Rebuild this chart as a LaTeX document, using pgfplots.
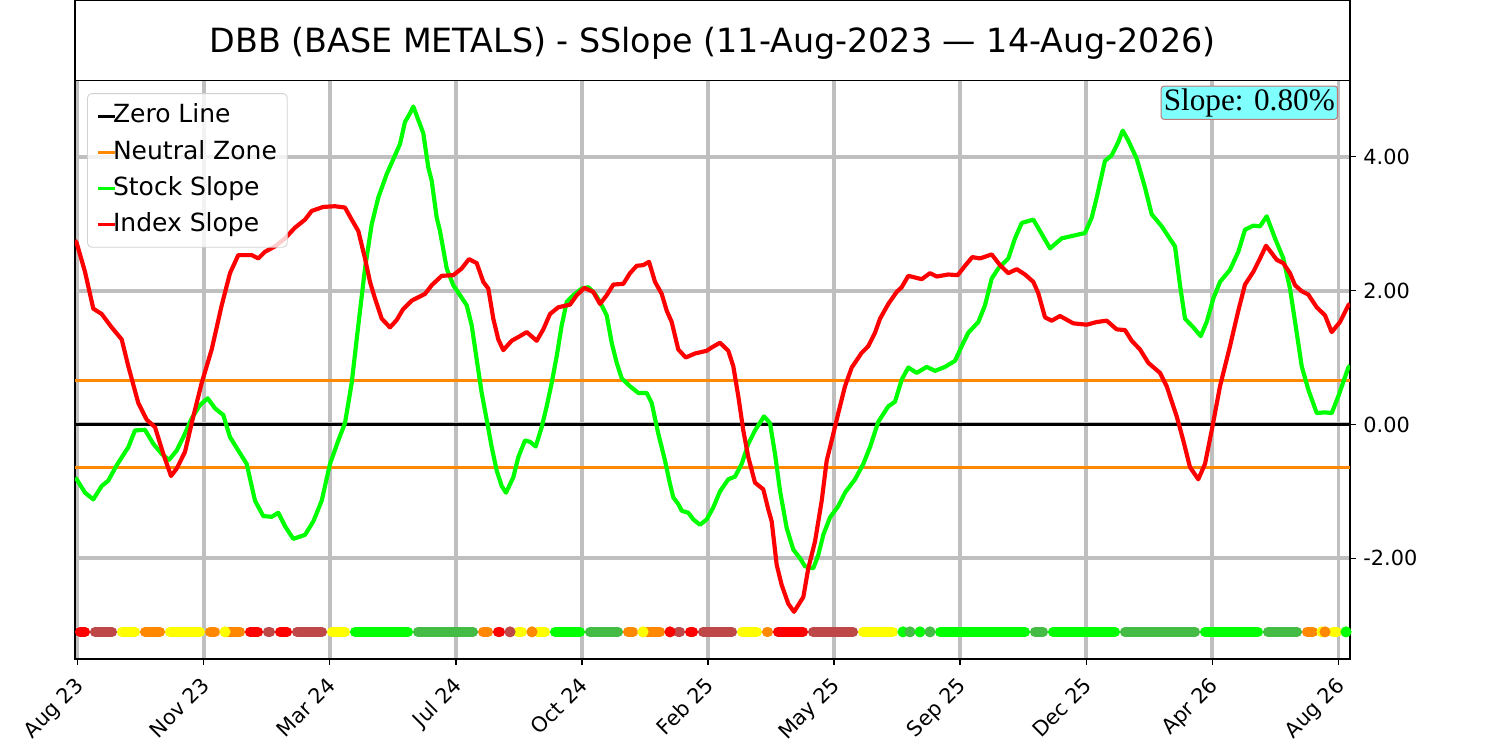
\documentclass[border=0pt]{standalone}
\usepackage{pgfplots}
\usepackage{pgfplotstable}
\pgfplotsset{compat=1.18}
\usepackage{fontspec}
\setmainfont{DejaVu Sans}
\newfontfamily\timesfont{Liberation Serif}
\definecolor{cbrown}{RGB}{190,72,72}
\definecolor{cgreen}{RGB}{68,187,68}
\definecolor{clime}{RGB}{0,255,0}
\definecolor{corange}{RGB}{255,136,0}
\definecolor{cyellow}{RGB}{255,255,0}
\definecolor{cred}{RGB}{255,0,0}
\definecolor{gridgray}{RGB}{191,191,191}
\definecolor{boxfill}{RGB}{128,255,255}
\definecolor{boxedge}{RGB}{190,120,120}

\pgfplotstableread{
x y
75 2.75
76.7 2.71
85 2.28
93.3 1.73
101.7 1.65
111.7 1.45
121.7 1.27
128.3 0.87
138.3 0.32
146.7 0.07
155 -0.04
163.3 -0.44
171 -0.77
176.7 -0.66
185 -0.41
193.3 0.12
201.7 0.62
211.7 1.12
221.7 1.78
230 2.26
238.3 2.53
251.7 2.53
258.3 2.48
265 2.58
275 2.66
285 2.78
295 2.94
305 3.06
311.7 3.19
323.3 3.25
335 3.26
345 3.24
351.7 3.06
358.3 2.89
365 2.48
370 2.13
375 1.88
381.7 1.58
390 1.45
396.7 1.56
403 1.72
411.7 1.85
425 1.95
431.7 2.08
441.7 2.22
453.3 2.23
461.7 2.33
469 2.47
476.7 2.41
483.3 2.13
488.3 2.03
493.3 1.58
498.3 1.27
503.3 1.11
511.7 1.25
520 1.32
526.7 1.38
536.7 1.25
543.3 1.42
550 1.65
558.3 1.75
570 1.79
576.7 1.93
584.3 2.04
593.3 1.98
600 1.80
606.7 1.93
613.3 2.09
623.3 2.10
630 2.26
636.7 2.37
643.3 2.38
649 2.43
655 2.13
661.7 1.95
666.7 1.70
671.7 1.53
678.3 1.12
685.7 1.00
695 1.06
706.7 1.10
711.7 1.15
720 1.22
728.3 1.10
733.3 0.87
738.3 0.42
743.3 -0.09
748.3 -0.49
755 -0.87
763.3 -0.97
768.3 -1.27
771.7 -1.45
776.7 -2.10
781.7 -2.40
788.3 -2.68
794 -2.80
803.3 -2.58
808.3 -2.15
815 -1.75
821.7 -1.14
826.7 -0.54
831.7 -0.24
838.3 0.17
845 0.57
851.7 0.85
861.7 1.07
868.3 1.17
875 1.37
880 1.58
888.3 1.80
896.7 1.98
901.7 2.05
908.3 2.22
921.7 2.17
930 2.26
936.7 2.21
948.3 2.24
957.7 2.23
965 2.37
972.3 2.50
980 2.48
991.7 2.54
1000 2.38
1008.3 2.26
1016.7 2.32
1025 2.24
1033.3 2.13
1038.3 1.96
1045 1.60
1051.7 1.55
1060 1.62
1073.3 1.51
1086.7 1.49
1096.7 1.53
1106.7 1.55
1116.7 1.42
1125 1.41
1131.7 1.25
1140 1.12
1148.3 0.92
1160 0.77
1166.7 0.57
1176.7 0.12
1183.3 -0.24
1190 -0.64
1198.3 -0.82
1205 -0.59
1211.7 -0.09
1220 0.57
1230 1.17
1238.3 1.70
1245 2.09
1253.3 2.28
1260 2.48
1266 2.67
1271.7 2.56
1276.7 2.46
1283.3 2.41
1290 2.26
1295 2.08
1301.7 1.99
1308.3 1.94
1316.7 1.75
1325 1.63
1331.7 1.38
1340 1.53
1348.3 1.78
1350 1.80
}\indextable

\pgfplotstableread{
x y
75 -0.80
76.7 -0.82
85 -1.02
93.3 -1.12
101.7 -0.92
108.3 -0.84
116.7 -0.61
128.3 -0.34
135 -0.09
145 -0.08
153.3 -0.29
161.7 -0.44
169 -0.53
176.7 -0.39
183.3 -0.19
191.7 0.09
200 0.29
207.7 0.39
215 0.24
223.3 0.14
230 -0.19
238.3 -0.39
246.7 -0.59
255 -1.14
263.3 -1.37
271.7 -1.38
278.3 -1.32
285 -1.52
293.3 -1.71
305 -1.65
313.3 -1.45
321.7 -1.14
330 -0.59
338.3 -0.24
345 0.02
351.7 0.62
358.3 1.48
365 2.33
371.7 2.99
378.3 3.39
386.7 3.74
395 4.02
400 4.19
405 4.52
410 4.65
413.3 4.75
418.3 4.55
423.3 4.35
428.3 3.84
431.7 3.64
436.7 3.09
440 2.89
446.7 2.33
453.3 2.08
460 1.93
466.7 1.78
471.7 1.48
476.7 0.97
481.7 0.47
486.7 0.07
491.7 -0.34
496.7 -0.69
501.7 -0.92
506 -1.02
513.3 -0.79
518.3 -0.49
525 -0.24
530 -0.26
535.7 -0.33
541.7 -0.04
546.7 0.27
551.7 0.62
556.7 1.02
561.7 1.48
566.7 1.83
573.3 1.93
581.7 2.03
588.3 2.05
595 1.95
600 1.83
606.7 1.63
611.7 1.22
616.7 0.92
621.7 0.69
630 0.57
638.3 0.47
646.7 0.47
651.7 0.32
658.3 -0.14
665 -0.54
670 -0.89
673.3 -1.09
678.3 -1.19
681.7 -1.29
688.3 -1.32
693.3 -1.42
700 -1.50
706.7 -1.42
713.3 -1.24
720 -1.00
728.3 -0.82
735 -0.78
741.7 -0.59
748.3 -0.29
755 -0.09
764 0.12
770 0.02
775 -0.44
780 -0.99
786.7 -1.55
793.3 -1.87
800 -2.00
805 -2.12
813.3 -2.15
818.3 -1.95
823.3 -1.65
830 -1.39
838.3 -1.22
845 -1.02
855 -0.82
863.3 -0.59
870 -0.34
878.3 0.04
888.3 0.27
895 0.34
901.7 0.67
908.3 0.85
916.7 0.77
926.7 0.86
935 0.80
945 0.86
955 0.95
961.7 1.17
968.3 1.37
978.3 1.53
985 1.78
991.7 2.18
998.3 2.33
1008.3 2.48
1015 2.78
1021.7 3.01
1033.3 3.06
1040 2.89
1050 2.63
1061.7 2.78
1073.3 2.82
1085 2.86
1091.7 3.09
1096.7 3.39
1105 3.94
1111.7 4.02
1118.3 4.22
1122.7 4.39
1128.3 4.24
1136.7 3.97
1145 3.54
1151.7 3.14
1161.7 2.96
1168.3 2.81
1175 2.66
1180 2.08
1185 1.58
1193.3 1.45
1200.7 1.32
1206.7 1.53
1213.3 1.88
1220 2.13
1230 2.31
1238.3 2.58
1245 2.91
1253.3 2.97
1260 2.96
1266.7 3.11
1275 2.78
1283.3 2.48
1290 2.03
1296.7 1.37
1301.7 0.87
1308.3 0.52
1316.7 0.17
1325 0.18
1331.7 0.17
1338.3 0.42
1348.3 0.85
1350 0.88
}\stocktable

\begin{document}
\begin{tikzpicture}
\useasboundingbox (0,0) rectangle (720pt,355.68pt);
\begin{axis}[
  at={(36pt,39.36pt)}, anchor=south west,
  scale only axis, width=612pt, height=277.68pt,
  xmin=75, xmax=1350, ymin=-3.505, ymax=5.139,
  axis line style={line width=0.7pt, black},
  xtick={77.5,203.6,329.7,455.8,581.9,708,834.1,960.2,1086.3,1212.4,1338.5},
  xticklabels={Aug 23,Nov 23,Mar 24,Jul 24,Oct 24,Feb 25,May 25,Sep 25,Dec 25,Apr 26,Aug 26},
  ytick={-2,0,2,4},
  yticklabel pos=right,
  xtick pos=bottom, ytick pos=right,
  tick align=outside,
  major tick length=2.9pt,
  every tick/.style={black, line width=0.7pt},
  yticklabel style={/pgf/number format/.cd, fixed, fixed zerofill, precision=2, assume math mode=true},
  xticklabel style={/pgf/number format/assume math mode=true, anchor=north east, rotate=45, xshift=-1.5pt, yshift=1.2pt},
  tick label style={font=\fontsize{10}{12}\selectfont},
  grid=major,
  major grid style={line width=1.9pt, color=gridgray},
  legend style={at={(0.0095,0.978)}, anchor=north west, draw=black!18, rounded corners=2pt,
    fill=white, fill opacity=0.8, text opacity=1, inner sep=4.5pt, row sep=4.9pt, column sep=-2.2pt,
    font=\fontsize{12}{14}\selectfont,
    nodes={inner sep=0.5pt, text height=9pt, text depth=2.5pt}},
  legend cell align=left,
  legend image code/.code={\draw[#1, line width=1.44pt] (0pt,0pt) -- (8pt,0pt);},
  dot/.style={line width=4.9pt, line cap=round, no markers, forget plot},
  dotm/.style={only marks, mark=*, mark size=2.45pt, forget plot},
]
\addplot[black, line width=1.5pt] coordinates {(75,0) (1350,0)};
\addlegendentry{Zero Line}
\addplot[corange, line width=1.44pt] coordinates {(75,0.65) (1350,0.65)};
\addlegendentry{Neutral Zone}
\addplot[corange, line width=1.44pt, forget plot] coordinates {(75,-0.65) (1350,-0.65)};
% signal dots
\addplot[dot, cred] coordinates {(80,-3.1) (85,-3.1)};
\addplot[dot, cbrown] coordinates {(95,-3.1) (112,-3.1)};
\addplot[dot, cyellow] coordinates {(122,-3.1) (135,-3.1)};
\addplot[dot, corange] coordinates {(145,-3.1) (160,-3.1)};
\addplot[dot, cyellow] coordinates {(170,-3.1) (200,-3.1)};
\addplot[dot, corange] coordinates {(210,-3.1) (215,-3.1)};
\addplot[dotm, cyellow] coordinates {(225,-3.1)};
\addplot[dot, corange] coordinates {(228,-3.1) (240,-3.1)};
\addplot[dot, cred] coordinates {(250,-3.1) (258,-3.1)};
\addplot[dot, cbrown] coordinates {(268,-3.1) (270,-3.1)};
\addplot[dot, cred] coordinates {(280,-3.1) (287,-3.1)};
\addplot[dot, cbrown] coordinates {(297,-3.1) (322,-3.1)};
\addplot[dot, cyellow] coordinates {(332,-3.1) (345,-3.1)};
\addplot[dot, clime] coordinates {(355,-3.1) (408,-3.1)};
\addplot[dot, cgreen] coordinates {(418,-3.1) (473,-3.1)};
\addplot[dot, corange] coordinates {(483,-3.1) (488,-3.1)};
\addplot[dot, cred] coordinates {(498,-3.1) (500,-3.1)};
\addplot[dotm, cbrown] coordinates {(510,-3.1)};
\addplot[dot, cyellow] coordinates {(518,-3.1) (522,-3.1)};
\addplot[dotm, corange] coordinates {(532,-3.1)};
\addplot[dot, cyellow] coordinates {(538,-3.1) (545,-3.1)};
\addplot[dot, clime] coordinates {(555,-3.1) (580,-3.1)};
\addplot[dot, cgreen] coordinates {(590,-3.1) (618,-3.1)};
\addplot[dot, corange] coordinates {(628,-3.1) (633,-3.1)};
\addplot[dotm, cyellow] coordinates {(643,-3.1)};
\addplot[dot, corange] coordinates {(647,-3.1) (660,-3.1)};
\addplot[dotm, cred] coordinates {(670,-3.1)};
\addplot[dot, cbrown] coordinates {(678,-3.1) (680,-3.1)};
\addplot[dot, cred] coordinates {(690,-3.1) (693,-3.1)};
\addplot[dot, cbrown] coordinates {(703,-3.1) (732,-3.1)};
\addplot[dot, cyellow] coordinates {(742,-3.1) (757,-3.1)};
\addplot[dot, corange] coordinates {(767,-3.1) (768,-3.1)};
\addplot[dot, cred] coordinates {(778,-3.1) (803,-3.1)};
\addplot[dot, cbrown] coordinates {(813,-3.1) (853,-3.1)};
\addplot[dot, cyellow] coordinates {(863,-3.1) (893,-3.1)};
\addplot[dotm, clime] coordinates {(903,-3.1)};
\addplot[dotm, cgreen] coordinates {(910,-3.1)};
\addplot[dotm, clime] coordinates {(920,-3.1)};
\addplot[dotm, cgreen] coordinates {(930,-3.1)};
\addplot[dot, clime] coordinates {(940,-3.1) (1025,-3.1)};
\addplot[dot, cgreen] coordinates {(1035,-3.1) (1043,-3.1)};
\addplot[dot, clime] coordinates {(1053,-3.1) (1115,-3.1)};
\addplot[dot, cgreen] coordinates {(1125,-3.1) (1195,-3.1)};
\addplot[dot, clime] coordinates {(1205,-3.1) (1258,-3.1)};
\addplot[dot, cgreen] coordinates {(1268,-3.1) (1297,-3.1)};
\addplot[dot, corange] coordinates {(1307,-3.1) (1313,-3.1)};
\addplot[dotm, cyellow] coordinates {(1322,-3.1)};
\addplot[dotm, corange] coordinates {(1325,-3.1)};
\addplot[dot, cyellow] coordinates {(1333,-3.1) (1337,-3.1)};
\addplot[dotm, clime] coordinates {(1346,-3.1)};
% slopes
\addplot[clime, line width=2pt, line join=round] table[x=x, y=y] {\stocktable};
\addlegendentry{Stock Slope}
\addplot[cred, line width=2pt, line join=round] table[x=x, y=y] {\indextable};
\addlegendentry{Index Slope}
\node[anchor=north east, fill=boxfill, draw=boxedge, line width=0.5pt, rounded corners=1.5pt,
  inner xsep=1.3pt, inner ysep=1.2pt, font=\timesfont\fontsize{15}{15}\selectfont]
  at (rel axis cs:0.9906,0.9913) {Slope: 0.80\%};
\end{axis}
\draw[line width=0.7pt, black] (36pt,317.04pt) rectangle (648pt,355.68pt);
\node[anchor=base, font=\fontsize{16}{19}\selectfont, inner sep=0pt] at (342pt,330.7pt)
  {DBB (BASE METALS) - SSlope (11-Aug-2023 — 14-Aug-2026)};
\end{tikzpicture}
\end{document}
